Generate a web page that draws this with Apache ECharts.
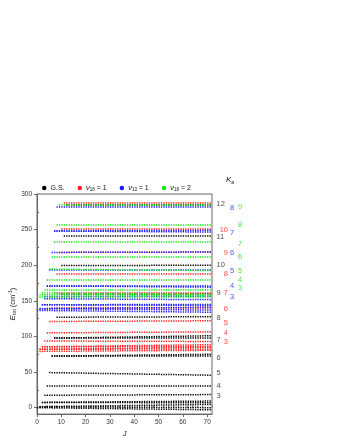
<!DOCTYPE html>
<html>
<head>
<meta charset="utf-8">
<script src="https://cdn.jsdelivr.net/npm/echarts@6/dist/echarts.min.js"></script>
<style>
html, body { margin: 0; padding: 0; background: #fff; }
#main { width: 350px; height: 444px; }
</style>
</head>
<body>
<div id="main"></div>
<script>
// every level runs from its first J up to jMax
var jMax = 72;

// ground state: first J, energy at first J, energy at J = 72
var gsJ  = [0, 1, 1, 2, 2, 3, 4, 5, 6, 6, 7, 7, 8, 9, 10, 11, 12];
var gsE0 = [0, 1.4, 1.4, 7.4, 7.4, 17.5, 31.4, 49.3, 72.4, 72.4, 97.7, 97.7, 127, 160, 199.5, 241, 285.5];
var gsE1 = [-3, 0, 4.6, 6.9, 9.3, 18.4, 31.4, 45.6, 72.3, 75, 97.8, 101, 127.7, 160, 200, 241, 285.5];

// v18 = 1
var v18J  = [0, 1, 1, 2, 2, 3, 4, 5, 6, 7, 8, 9, 10, 11];
var v18E0 = [79, 82, 82, 85.5, 85.5, 93.6, 105, 121, 141, 162, 188.6, 218, 251.3, 287.3];
var v18E1 = [80.6, 82.5, 85, 86, 88.5, 93, 106.5, 122, 141, 162, 188.6, 218.5, 251.3, 287.3];

// v13 = 1
var v13J  = [0, 1, 1, 2, 2, 3, 3, 4, 4, 5, 6, 7, 7, 8];
var v13E0 = [136.5, 139, 139, 144.5, 144.5, 153, 156, 171, 171, 193.8, 218, 248, 248, 281.7];
var v13E1 = [134, 137, 141, 143.5, 145, 151.7, 156.5, 171.1, 169.2, 194, 218.5, 246.6, 249, 281.7];

// v18 = 2
var v182J  = [0, 1, 2, 3, 4, 5, 6, 7, 8, 9];
var v182E0 = [156, 158.5, 161, 166, 180, 194.6, 211.6, 232.8, 256.3, 284.5];
var v182E1 = [156, 157.5, 159, 165.6, 180.2, 192.4, 211.6, 232.8, 256.3, 284.5];

// Ka labels on the right side
var gsLabK  = [12, 11, 10, 9, 8, 7, 6, 5, 4, 3];
var gsLabE  = [286.2, 239.6, 200.5, 160.4, 125.8, 95.8, 69.5, 48.4, 30.4, 16.2];
var v18LabK = [10, 9, 8, 7, 6, 5, 4, 3];
var v18LabE = [250.2, 216.6, 188, 160.4, 138.7, 119.3, 104.7, 92.6];
var v13LabK = [8, 7, 6, 5, 4, 3];
var v13LabE = [280.2, 245.7, 216.6, 191.8, 171, 155.3];
var v182LabK = [9, 8, 7, 6, 5, 4, 3];
var v182LabE = [282.4, 256, 230.5, 211.1, 192.6, 178.8, 168.3];

var yTicks = [0, 50, 100, 150, 200, 250, 300];
var yMinor = [25, 75, 125, 175, 225, 275];
var xMinor = [2, 4, 6, 8, 12, 14, 16, 18, 22, 24, 26, 28, 32, 34, 36, 38, 42, 44, 46, 48, 52, 54, 56, 58, 62, 64, 66, 68, 72];

var FONT = 'Liberation Sans';
var BLACK = '#000000', RED = '#ff1a1a', BLUE = '#1a1aff', GREEN = '#19e619';

function segs(J, E0, E1) {
  return J.map(function (j, i) {
    return { coords: [[j, E0[i]], [jMax, E1[i]]] };
  });
}

function levelSeries(name, color, J, E0, E1, z) {
  return {
    type: 'lines',
    name: name,
    coordinateSystem: 'cartesian2d',
    silent: true,
    z: z,
    lineStyle: { color: color, width: 1.5, type: [1.3, 1.13], opacity: 1, cap: 'butt' },
    data: segs(J, E0, E1)
  };
}

function labelSeries(color, K, E, dx, align, z) {
  return {
    type: 'scatter',
    silent: true,
    symbolSize: 0.1,
    itemStyle: { color: 'transparent' },
    z: z,
    label: {
      show: true,
      position: 'inside',
      offset: [dx, 0],
      align: align,
      verticalAlign: 'middle',
      color: color,
      fontSize: 7.5,
      fontFamily: FONT,
      formatter: function (p) { return p.value[2]; }
    },
    data: K.map(function (k, i) { return [jMax, E[i], k]; })
  };
}

var chart = echarts.init(document.getElementById('main'), null, { renderer: 'canvas' });

var option = {
  backgroundColor: '#ffffff',
  animation: false,
  textStyle: { fontFamily: FONT },
  grid: { left: 37, right: 138, top: 194, bottom: 27, show: true, borderColor: '#666', borderWidth: 1, backgroundColor: 'transparent' },
  legend: {
    top: 179, left: 37,
    icon: 'circle', itemWidth: 2.5, itemHeight: 2.5, itemGap: 13,
    data: ['G.S.', 'v18=1', 'v13=1', 'v18=2'],
    formatter: function (n) {
      if (n === 'G.S.') return 'G.S.';
      var m = n.match(/v(\d+)=(\d)/);
      return '{i|ν}{s|' + m[1] + '} = ' + m[2];
    },
    textStyle: {
      fontSize: 7, color: '#111', fontFamily: FONT,
      rich: {
        i: { fontStyle: 'italic', fontSize: 7.5, fontFamily: FONT },
        s: { fontSize: 4.5, fontFamily: FONT, padding: [4, 0, 0, 0] }
      }
    }
  },
  xAxis: [{
    type: 'value', min: 0, max: jMax, interval: 10,
    axisLine: { onZero: false, lineStyle: { color: '#666', width: 1 } },
    axisTick: { length: 3, lineStyle: { color: '#666' } },
    axisLabel: { fontSize: 6.5, color: '#333', margin: 5, showMaxLabel: false, fontFamily: FONT },
    splitLine: { show: false },
    name: 'J', nameLocation: 'middle', nameGap: 16,
    nameTextStyle: { fontStyle: 'italic', fontSize: 7.5, color: '#222', fontFamily: FONT }
  }, {
    type: 'value', min: 0, max: jMax, position: 'bottom',
    axisLine: { show: false },
    axisLabel: { show: false },
    splitLine: { show: false },
    axisTick: { show: true, inside: true, length: 2, customValues: xMinor, lineStyle: { color: '#666' } }
  }],
  yAxis: [{
    type: 'value', min: -9, max: 300,
    axisLine: { onZero: false, lineStyle: { color: '#666', width: 1 } },
    axisTick: { length: 3, customValues: yTicks, lineStyle: { color: '#666' } },
    axisLabel: { fontSize: 6.5, color: '#333', margin: 5, customValues: yTicks, fontFamily: FONT },
    splitLine: { show: false },
    name: '{i|E}{s|rot} (cm{p|-1})', nameLocation: 'middle', nameGap: 19, nameRotate: 90,
    nameTextStyle: {
      fontSize: 7.5, color: '#222', fontFamily: FONT,
      rich: {
        i: { fontStyle: 'italic', fontSize: 8, fontFamily: FONT },
        s: { fontSize: 5, fontFamily: FONT, padding: [4, 0, 0, 0] },
        p: { fontSize: 5, fontFamily: FONT, padding: [0, 0, 4, 0] }
      }
    }
  }, {
    type: 'value', min: -9, max: 300, position: 'left',
    axisLine: { show: false },
    axisLabel: { show: false },
    splitLine: { show: false },
    axisTick: { show: true, inside: true, length: 2, customValues: yMinor, lineStyle: { color: '#666' } }
  }],
  graphic: [{
    type: 'text', left: 226, top: 176,
    style: {
      text: '{k|K}{a|a}',
      rich: {
        k: { fontStyle: 'italic', fontSize: 8, fontFamily: FONT, fill: '#111' },
        a: { fontSize: 5, fontFamily: FONT, fill: '#111', padding: [5, 0, 0, 0] }
      }
    }
  }],
  series: [
    levelSeries('G.S.', BLACK, gsJ, gsE0, gsE1, 2),
    levelSeries('v18=1', RED, v18J, v18E0, v18E1, 3),
    levelSeries('v13=1', BLUE, v13J, v13E0, v13E1, 4),
    levelSeries('v18=2', GREEN, v182J, v182E0, v182E1, 5),
    labelSeries('#222', gsLabK, gsLabE, 4.5, 'left', 6),
    labelSeries(RED, v18LabK, v18LabE, 16, 'right', 6),
    labelSeries(BLUE, v13LabK, v13LabE, 20, 'center', 6),
    labelSeries(GREEN, v182LabK, v182LabE, 28, 'center', 6)
  ]
};

chart.setOption(option);
</script>
</body>
</html>
